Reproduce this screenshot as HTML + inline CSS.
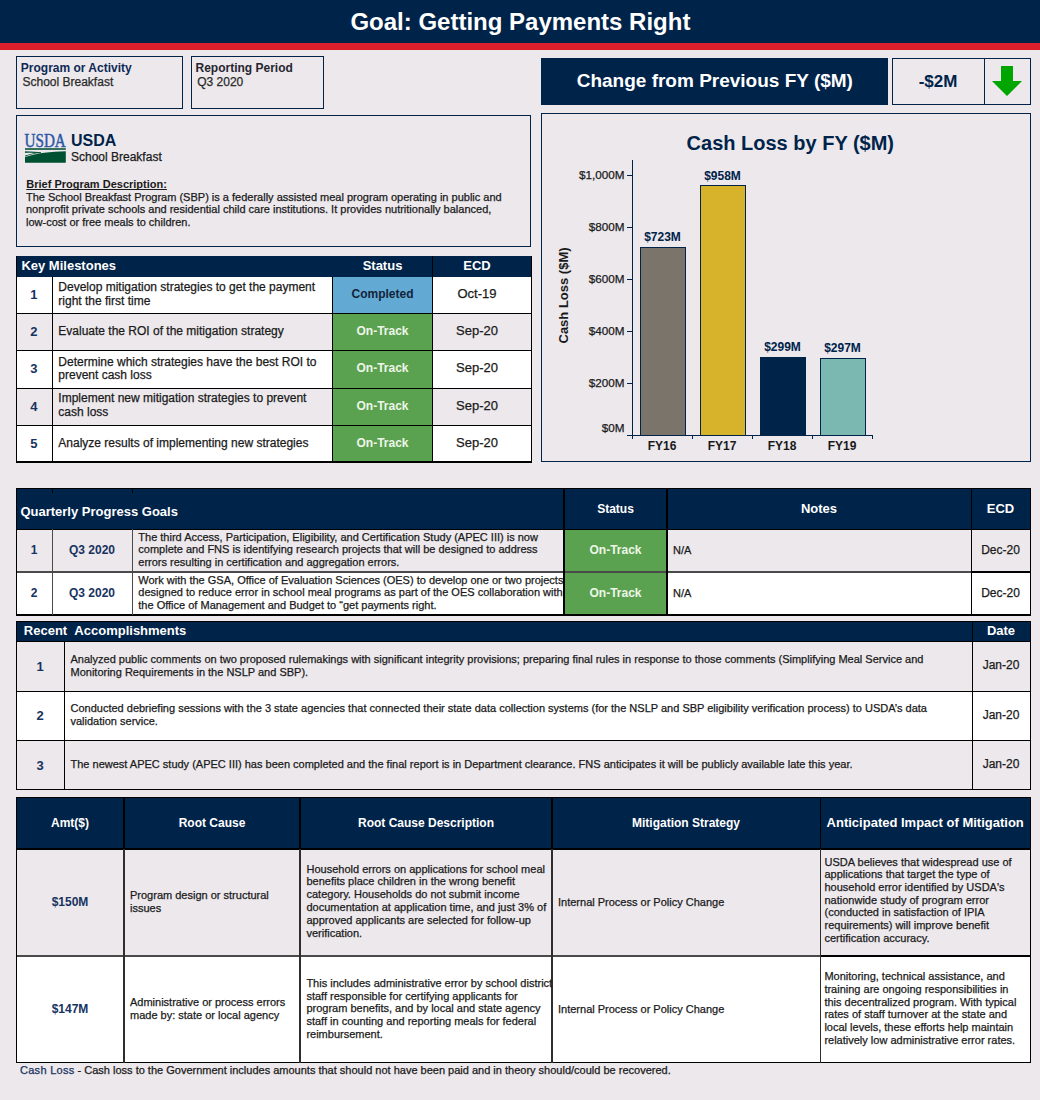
<!DOCTYPE html>
<html><head><meta charset="utf-8"><style>
html,body{margin:0;padding:0;}
body{width:1040px;height:1100px;position:relative;overflow:hidden;background:#ECE8EC;font-family:"Liberation Sans",sans-serif;}
.a{position:absolute;box-sizing:border-box;}
.t{white-space:nowrap;}
.n{-webkit-text-stroke:0.25px currentColor;}
</style></head><body>
<div class="a" style="left:0px;top:0px;width:1040px;height:43px;background:#00234A;"></div>
<div class="a" style="left:0px;top:43px;width:1040px;height:7px;background:#DC1F2A;"></div>
<div class="a t" style="top:9.68px;font-size:24px;line-height:24px;font-weight:bold;color:#FFFFFF;left:120.39999999999998px;width:800px;text-align:center;">Goal: Getting Payments Right</div>
<div class="a" style="left:16px;top:56px;width:167px;height:53px;box-shadow:inset 0 0 0 1px #00234A;"></div>
<div class="a t" style="top:61.84px;font-size:12px;line-height:12px;font-weight:bold;color:#0F2A55;left:20.8px;">Program or Activity</div>
<div class="a t n" style="top:75.54px;font-size:12px;line-height:12px;font-weight:normal;color:#2A2A2A;left:22.5px;">School Breakfast</div>
<div class="a" style="left:191px;top:56px;width:133px;height:53px;box-shadow:inset 0 0 0 1px #00234A;"></div>
<div class="a t" style="top:61.84px;font-size:12px;line-height:12px;font-weight:bold;color:#262630;left:195.5px;">Reporting Period</div>
<div class="a t n" style="top:75.54px;font-size:12px;line-height:12px;font-weight:normal;color:#2A2A2A;left:197.2px;">Q3 2020</div>
<div class="a" style="left:541px;top:58px;width:347px;height:47px;background:#00234A;"></div>
<div class="a t" style="top:71.42px;font-size:19px;line-height:19px;font-weight:bold;color:#FFFFFF;left:576.7px;">Change from Previous FY ($M)</div>
<div class="a" style="left:892px;top:58px;width:139px;height:47px;box-shadow:inset 0 0 0 1px #00234A;"></div>
<div class="a" style="left:984px;top:58px;width:1px;height:47px;background:#00234A"></div>
<div class="a t" style="top:72.61px;font-size:17px;line-height:17px;font-weight:bold;color:#00234A;left:538px;width:800px;text-align:center;">-$2M</div>
<svg class="a" style="left:990px;top:64px" width="34" height="34" viewBox="0 0 34 34"><path d="M11 2H23V17H32L17 32L2 17H11Z" fill="#00A600"/></svg>
<div class="a" style="left:16px;top:115px;width:515px;height:132px;box-shadow:inset 0 0 0 1px #00234A;"></div>
<svg class="a" style="left:24px;top:132px" width="44" height="32" viewBox="0 0 44 32">
<text x="0.6" y="14.8" font-family="Liberation Serif" font-size="17.9" fill="#2A57A6" stroke="#2A57A6" stroke-width="0.45" textLength="41.2" lengthAdjust="spacingAndGlyphs">USDA</text>
<rect x="1" y="16.2" width="40.8" height="1.6" fill="#0B5636"/>
<path d="M1 19.2 C8 19.4 13 19.8 17 20.6 L17 21.4 C12 20.8 7 20.6 1 20.9 Z" fill="#0B5636"/>
<path d="M1 23.6 C6 21.8 11 20.6 17 19.9 L17 20.7 C11 21.4 6 22.6 1 24.4 Z" fill="#0B5636"/>
<path d="M1 25.0 C13 21.2 27 19.6 41.8 19.3 L41.8 30.7 L1 30.7 Z" fill="#005032"/>
</svg>
<div class="a t" style="top:133.46px;font-size:16px;line-height:16px;font-weight:bold;color:#00234A;left:71px;">USDA</div>
<div class="a t n" style="top:150.84px;font-size:12px;line-height:12px;font-weight:normal;color:#1A1A1A;left:71px;">School Breakfast</div>
<div class="a t" style="top:178.69px;font-size:11px;line-height:11px;font-weight:bold;color:#1A1A1A;left:26.3px;"><u style="text-decoration-skip-ink:none">Brief Program Description:</u></div>
<div class="a t n" style="top:190.89px;font-size:11px;line-height:12.6px;font-weight:normal;color:#1A1A1A;left:26px;">The School Breakfast Program (SBP) is a federally assisted meal program operating in public and<br>nonprofit private schools and residential child care institutions. It provides nutritionally balanced,<br>low-cost or free meals to children.</div>
<div class="a" style="left:541px;top:113px;width:490px;height:349px;box-shadow:inset 0 0 0 1px #00234A;"></div>
<div class="a t" style="top:133.07px;font-size:20px;line-height:20px;font-weight:bold;color:#00234A;left:390.29999999999995px;width:800px;text-align:center;">Cash Loss by FY ($M)</div>
<div class="a" style="left:632px;top:160px;width:1px;height:276px;background:#00234A"></div>
<div class="a" style="left:627px;top:435px;width:246px;height:1px;background:#00234A"></div>
<div class="a t n" style="top:422.30px;font-size:11.7px;line-height:11.7px;font-weight:normal;color:#1A1A1A;left:224.5px;width:400px;text-align:right;">$0M</div>
<div class="a" style="left:627px;top:383px;width:5px;height:1px;background:#00234A"></div>
<div class="a t n" style="top:377.40px;font-size:11.7px;line-height:11.7px;font-weight:normal;color:#1A1A1A;left:224.5px;width:400px;text-align:right;">$200M</div>
<div class="a" style="left:627px;top:331px;width:5px;height:1px;background:#00234A"></div>
<div class="a t n" style="top:325.40px;font-size:11.7px;line-height:11.7px;font-weight:normal;color:#1A1A1A;left:224.5px;width:400px;text-align:right;">$400M</div>
<div class="a" style="left:627px;top:279px;width:5px;height:1px;background:#00234A"></div>
<div class="a t n" style="top:273.40px;font-size:11.7px;line-height:11.7px;font-weight:normal;color:#1A1A1A;left:224.5px;width:400px;text-align:right;">$600M</div>
<div class="a" style="left:627px;top:227px;width:5px;height:1px;background:#00234A"></div>
<div class="a t n" style="top:221.40px;font-size:11.7px;line-height:11.7px;font-weight:normal;color:#1A1A1A;left:224.5px;width:400px;text-align:right;">$800M</div>
<div class="a" style="left:627px;top:175px;width:5px;height:1px;background:#00234A"></div>
<div class="a t n" style="top:169.40px;font-size:11.7px;line-height:11.7px;font-weight:normal;color:#1A1A1A;left:224.5px;width:400px;text-align:right;">$1,000M</div>
<div class="a" style="left:632px;top:435px;width:1px;height:4px;background:#00234A"></div>
<div class="a" style="left:692px;top:435px;width:1px;height:4px;background:#00234A"></div>
<div class="a" style="left:752px;top:435px;width:1px;height:4px;background:#00234A"></div>
<div class="a" style="left:812px;top:435px;width:1px;height:4px;background:#00234A"></div>
<div class="a" style="left:872px;top:435px;width:1px;height:4px;background:#00234A"></div>
<div class="a" style="left:640px;top:247.0px;width:46px;height:189.0px;background:#7B746A;box-shadow:inset 0 0 0 1px #00234A;"></div>
<div class="a t" style="top:231.06px;font-size:12px;line-height:12px;font-weight:bold;color:#00234A;left:262.5px;width:800px;text-align:center;">$723M</div>
<div class="a t" style="top:439.84px;font-size:12px;line-height:12px;font-weight:bold;color:#1A1A1A;left:262px;width:800px;text-align:center;">FY16</div>
<div class="a" style="left:700px;top:184.9px;width:46px;height:251.1px;background:#D6B32A;box-shadow:inset 0 0 0 1px #00234A;"></div>
<div class="a t" style="top:169.96px;font-size:12px;line-height:12px;font-weight:bold;color:#00234A;left:322.5px;width:800px;text-align:center;">$958M</div>
<div class="a t" style="top:439.84px;font-size:12px;line-height:12px;font-weight:bold;color:#1A1A1A;left:322px;width:800px;text-align:center;">FY17</div>
<div class="a" style="left:760px;top:357.3px;width:46px;height:78.7px;background:#00234A;box-shadow:inset 0 0 0 1px #00234A;"></div>
<div class="a t" style="top:341.30px;font-size:12px;line-height:12px;font-weight:bold;color:#00234A;left:382.5px;width:800px;text-align:center;">$299M</div>
<div class="a t" style="top:439.84px;font-size:12px;line-height:12px;font-weight:bold;color:#1A1A1A;left:382px;width:800px;text-align:center;">FY18</div>
<div class="a" style="left:820px;top:357.8px;width:46px;height:78.2px;background:#7AB8B1;box-shadow:inset 0 0 0 1px #00234A;"></div>
<div class="a t" style="top:341.82px;font-size:12px;line-height:12px;font-weight:bold;color:#00234A;left:442.5px;width:800px;text-align:center;">$297M</div>
<div class="a t" style="top:439.84px;font-size:12px;line-height:12px;font-weight:bold;color:#1A1A1A;left:442px;width:800px;text-align:center;">FY19</div>
<div class="a t" style="left:515px;top:288px;width:96px;height:15px;font-size:13px;line-height:15px;font-weight:bold;color:#1A1A1A;text-align:center;transform:rotate(-90deg);transform-origin:50% 50%;white-space:nowrap">Cash Loss ($M)</div>
<div class="a" style="left:16px;top:256px;width:516px;height:21.3px;background:#00234A;"></div>
<div class="a" style="left:16px;top:277.3px;width:516px;height:35.69999999999999px;background:#FFFFFF;"></div>
<div class="a" style="left:333px;top:277.3px;width:99px;height:35.69999999999999px;background:#62A9D3;"></div>
<div class="a" style="left:16px;top:313px;width:516px;height:37px;background:#ECE8EC;"></div>
<div class="a" style="left:333px;top:313px;width:99px;height:37px;background:#5AA150;"></div>
<div class="a" style="left:16px;top:350px;width:516px;height:38px;background:#FFFFFF;"></div>
<div class="a" style="left:333px;top:350px;width:99px;height:38px;background:#5AA150;"></div>
<div class="a" style="left:16px;top:388px;width:516px;height:37px;background:#ECE8EC;"></div>
<div class="a" style="left:333px;top:388px;width:99px;height:37px;background:#5AA150;"></div>
<div class="a" style="left:16px;top:425px;width:516px;height:37px;background:#FFFFFF;"></div>
<div class="a" style="left:333px;top:425px;width:99px;height:37px;background:#5AA150;"></div>
<div class="a" style="left:16px;top:313px;width:516px;height:1px;background:#000000"></div>
<div class="a" style="left:16px;top:350px;width:516px;height:1px;background:#000000"></div>
<div class="a" style="left:16px;top:388px;width:516px;height:1px;background:#000000"></div>
<div class="a" style="left:16px;top:425px;width:516px;height:1px;background:#000000"></div>
<div class="a" style="left:16px;top:461.4px;width:516px;height:1.3px;background:#000000"></div>
<div class="a" style="left:16px;top:256px;width:1.2px;height:206px;background:#000000"></div>
<div class="a" style="left:530.8px;top:256px;width:1.2px;height:206px;background:#000000"></div>
<div class="a" style="left:52px;top:277px;width:1px;height:185px;background:#000000"></div>
<div class="a" style="left:332px;top:277px;width:1px;height:185px;background:#000000"></div>
<div class="a" style="left:432px;top:256px;width:1px;height:206px;background:#000000"></div>
<div class="a t" style="top:258.50px;font-size:13px;line-height:13px;font-weight:bold;color:#FFFFFF;left:21.4px;">Key Milestones</div>
<div class="a t" style="top:259.00px;font-size:13px;line-height:13px;font-weight:bold;color:#FFFFFF;left:-17.5px;width:800px;text-align:center;">Status</div>
<div class="a t" style="top:259.00px;font-size:13px;line-height:13px;font-weight:bold;color:#FFFFFF;left:77px;width:800px;text-align:center;">ECD</div>
<div class="a t" style="top:288.00px;font-size:13px;line-height:13px;font-weight:bold;color:#17335F;left:-366.2px;width:800px;text-align:center;">1</div>
<div class="a t n" style="top:280.84px;font-size:12px;line-height:13.8px;font-weight:normal;color:#1A1A1A;left:58.3px;">Develop mitigation strategies to get the payment<br>right the first time</div>
<div class="a t" style="top:288.44px;font-size:12px;line-height:12px;font-weight:bold;color:#13243A;left:-17.5px;width:800px;text-align:center;">Completed</div>
<div class="a t n" style="top:287.20px;font-size:13px;line-height:13px;font-weight:normal;color:#1A1A1A;left:77px;width:800px;text-align:center;">Oct-19</div>
<div class="a t" style="top:324.50px;font-size:13px;line-height:13px;font-weight:bold;color:#17335F;left:-366.2px;width:800px;text-align:center;">2</div>
<div class="a t n" style="top:324.54px;font-size:12px;line-height:13.8px;font-weight:normal;color:#1A1A1A;left:58.3px;">Evaluate the ROI of the mitigation strategy</div>
<div class="a t" style="top:324.94px;font-size:12px;line-height:12px;font-weight:bold;color:#EEF6E8;left:-17.5px;width:800px;text-align:center;">On-Track</div>
<div class="a t n" style="top:323.70px;font-size:13px;line-height:13px;font-weight:normal;color:#1A1A1A;left:77px;width:800px;text-align:center;">Sep-20</div>
<div class="a t" style="top:362.00px;font-size:13px;line-height:13px;font-weight:bold;color:#17335F;left:-366.2px;width:800px;text-align:center;">3</div>
<div class="a t n" style="top:355.64px;font-size:12px;line-height:13.8px;font-weight:normal;color:#1A1A1A;left:58.3px;">Determine which strategies have the best ROI to<br>prevent cash loss</div>
<div class="a t" style="top:362.44px;font-size:12px;line-height:12px;font-weight:bold;color:#EEF6E8;left:-17.5px;width:800px;text-align:center;">On-Track</div>
<div class="a t n" style="top:361.20px;font-size:13px;line-height:13px;font-weight:normal;color:#1A1A1A;left:77px;width:800px;text-align:center;">Sep-20</div>
<div class="a t" style="top:399.50px;font-size:13px;line-height:13px;font-weight:bold;color:#17335F;left:-366.2px;width:800px;text-align:center;">4</div>
<div class="a t n" style="top:392.44px;font-size:12px;line-height:13.8px;font-weight:normal;color:#1A1A1A;left:58.3px;">Implement new mitigation strategies to prevent<br>cash loss</div>
<div class="a t" style="top:399.94px;font-size:12px;line-height:12px;font-weight:bold;color:#EEF6E8;left:-17.5px;width:800px;text-align:center;">On-Track</div>
<div class="a t n" style="top:398.70px;font-size:13px;line-height:13px;font-weight:normal;color:#1A1A1A;left:77px;width:800px;text-align:center;">Sep-20</div>
<div class="a t" style="top:436.50px;font-size:13px;line-height:13px;font-weight:bold;color:#17335F;left:-366.2px;width:800px;text-align:center;">5</div>
<div class="a t n" style="top:436.84px;font-size:12px;line-height:13.8px;font-weight:normal;color:#1A1A1A;left:58.3px;">Analyze results of implementing new strategies</div>
<div class="a t" style="top:436.94px;font-size:12px;line-height:12px;font-weight:bold;color:#EEF6E8;left:-17.5px;width:800px;text-align:center;">On-Track</div>
<div class="a t n" style="top:435.70px;font-size:13px;line-height:13px;font-weight:normal;color:#1A1A1A;left:77px;width:800px;text-align:center;">Sep-20</div>
<div class="a" style="left:16px;top:488.5px;width:1015px;height:40.5px;background:#00234A;"></div>
<div class="a" style="left:16px;top:529px;width:1015px;height:43px;background:#ECE8EC;"></div>
<div class="a" style="left:16px;top:572px;width:1015px;height:43px;background:#FFFFFF;"></div>
<div class="a" style="left:564px;top:529px;width:103px;height:86px;background:#5AA150;"></div>
<div class="a" style="left:16px;top:488.2px;width:1015px;height:1.2px;background:#000000"></div>
<div class="a" style="left:16px;top:528.6px;width:1015px;height:1.2px;background:#000000"></div>
<div class="a" style="left:16px;top:571.4px;width:955px;height:1.4px;background:#4A4A4A"></div>
<div class="a" style="left:971px;top:571.4px;width:60px;height:1.4px;background:#000000"></div>
<div class="a" style="left:16px;top:614.2px;width:1015px;height:1.4px;background:#000000"></div>
<div class="a" style="left:16px;top:488.5px;width:1.4px;height:127px;background:#000000"></div>
<div class="a" style="left:1029.6px;top:488.5px;width:1.4px;height:127px;background:#000000"></div>
<div class="a" style="left:52px;top:529px;width:1.2px;height:86px;background:#4A4A4A"></div>
<div class="a" style="left:131.6px;top:529px;width:1.2px;height:86px;background:#4A4A4A"></div>
<div class="a" style="left:52px;top:489px;width:1.2px;height:4px;background:#000000"></div>
<div class="a" style="left:131.6px;top:489px;width:1.2px;height:4px;background:#000000"></div>
<div class="a" style="left:563.2px;top:488.5px;width:2px;height:127px;background:#000000"></div>
<div class="a" style="left:665.8px;top:488.5px;width:2px;height:127px;background:#000000"></div>
<div class="a" style="left:971px;top:488.5px;width:1.4px;height:127px;background:#000000"></div>
<div class="a t" style="top:505.00px;font-size:13px;line-height:13px;font-weight:bold;color:#FFFFFF;left:20.4px;">Quarterly Progress Goals</div>
<div class="a t" style="top:502.54px;font-size:12px;line-height:12px;font-weight:bold;color:#FFFFFF;left:215.5px;width:800px;text-align:center;">Status</div>
<div class="a t" style="top:501.70px;font-size:13px;line-height:13px;font-weight:bold;color:#FFFFFF;left:419px;width:800px;text-align:center;">Notes</div>
<div class="a t" style="top:501.70px;font-size:13px;line-height:13px;font-weight:bold;color:#FFFFFF;left:600.5px;width:800px;text-align:center;">ECD</div>
<div class="a t" style="top:543.94px;font-size:12px;line-height:12px;font-weight:bold;color:#17335F;left:-366px;width:800px;text-align:center;">1</div>
<div class="a t" style="top:543.94px;font-size:12px;line-height:12px;font-weight:bold;color:#17335F;left:-308px;width:800px;text-align:center;">Q3 2020</div>
<div class="a t n" style="top:530.79px;font-size:11px;line-height:12.6px;font-weight:normal;color:#1A1A1A;left:138.3px;">The third Access, Participation, Eligibility, and Certification Study (APEC III) is now<br>complete and FNS is identifying research projects that will be designed to address<br>errors resulting in certification and aggregation errors.</div>
<div class="a t" style="top:543.74px;font-size:12px;line-height:12px;font-weight:bold;color:#EEF6E8;left:215.5px;width:800px;text-align:center;">On-Track</div>
<div class="a t n" style="top:545.19px;font-size:11px;line-height:11px;font-weight:normal;color:#1A1A1A;left:673px;">N/A</div>
<div class="a t n" style="top:543.74px;font-size:12px;line-height:12px;font-weight:normal;color:#1A1A1A;left:600.5px;width:800px;text-align:center;">Dec-20</div>
<div class="a t" style="top:586.74px;font-size:12px;line-height:12px;font-weight:bold;color:#17335F;left:-366px;width:800px;text-align:center;">2</div>
<div class="a t" style="top:586.74px;font-size:12px;line-height:12px;font-weight:bold;color:#17335F;left:-308px;width:800px;text-align:center;">Q3 2020</div>
<div class="a t n" style="top:573.69px;font-size:11px;line-height:12.6px;font-weight:normal;color:#1A1A1A;left:138.3px;">Work with the GSA, Office of Evaluation Sciences (OES) to develop one or two projects<br>designed to reduce error in school meal programs as part of the OES collaboration with<br>the Office of Management and Budget to “get payments right.</div>
<div class="a t" style="top:586.54px;font-size:12px;line-height:12px;font-weight:bold;color:#EEF6E8;left:215.5px;width:800px;text-align:center;">On-Track</div>
<div class="a t n" style="top:587.99px;font-size:11px;line-height:11px;font-weight:normal;color:#1A1A1A;left:673px;">N/A</div>
<div class="a t n" style="top:586.54px;font-size:12px;line-height:12px;font-weight:normal;color:#1A1A1A;left:600.5px;width:800px;text-align:center;">Dec-20</div>
<div class="a" style="left:16px;top:621.5px;width:1015px;height:19.5px;background:#00234A;"></div>
<div class="a" style="left:16px;top:641px;width:1015px;height:50px;background:#ECE8EC;"></div>
<div class="a" style="left:16px;top:691px;width:1015px;height:49.5px;background:#FFFFFF;"></div>
<div class="a" style="left:16px;top:740.5px;width:1015px;height:49.5px;background:#ECE8EC;"></div>
<div class="a" style="left:16px;top:621px;width:1015px;height:1.2px;background:#000000"></div>
<div class="a" style="left:16px;top:640.5px;width:1015px;height:1.2px;background:#000000"></div>
<div class="a" style="left:16px;top:690.5px;width:1015px;height:1.2px;background:#000000"></div>
<div class="a" style="left:16px;top:740px;width:1015px;height:1.2px;background:#000000"></div>
<div class="a" style="left:16px;top:789px;width:1015px;height:1.4px;background:#000000"></div>
<div class="a" style="left:16px;top:621px;width:1.4px;height:169px;background:#000000"></div>
<div class="a" style="left:1029.6px;top:621px;width:1.4px;height:169px;background:#000000"></div>
<div class="a" style="left:64px;top:641px;width:1.2px;height:149px;background:#000000"></div>
<div class="a" style="left:972px;top:621px;width:1.2px;height:169px;background:#000000"></div>
<div class="a t" style="top:623.60px;font-size:13px;line-height:13px;font-weight:bold;color:#FFFFFF;left:23.8px;">Recent &nbsp;Accomplishments</div>
<div class="a t" style="top:624.00px;font-size:13px;line-height:13px;font-weight:bold;color:#FFFFFF;left:601px;width:800px;text-align:center;">Date</div>
<div class="a t" style="top:659.60px;font-size:13px;line-height:13px;font-weight:bold;color:#17335F;left:-360px;width:800px;text-align:center;">1</div>
<div class="a t n" style="top:652.99px;font-size:11px;line-height:13px;font-weight:normal;color:#1A1A1A;left:70.5px;">Analyzed public comments on two proposed rulemakings with significant integrity provisions; preparing final rules in response to those comments (Simplifying Meal Service and<br>Monitoring Requirements in the NSLP and SBP).</div>
<div class="a t n" style="top:659.24px;font-size:12px;line-height:12px;font-weight:normal;color:#1A1A1A;left:601px;width:800px;text-align:center;">Jan-20</div>
<div class="a t" style="top:709.10px;font-size:13px;line-height:13px;font-weight:bold;color:#17335F;left:-360px;width:800px;text-align:center;">2</div>
<div class="a t n" style="top:701.69px;font-size:11px;line-height:13px;font-weight:normal;color:#1A1A1A;left:70.5px;">Conducted debriefing sessions with the 3 state agencies that connected their state data collection systems (for the NSLP and SBP eligibility verification process) to USDA’s data<br>validation service.</div>
<div class="a t n" style="top:708.74px;font-size:12px;line-height:12px;font-weight:normal;color:#1A1A1A;left:601px;width:800px;text-align:center;">Jan-20</div>
<div class="a t" style="top:758.80px;font-size:13px;line-height:13px;font-weight:bold;color:#17335F;left:-360px;width:800px;text-align:center;">3</div>
<div class="a t n" style="top:757.99px;font-size:11px;line-height:13px;font-weight:normal;color:#1A1A1A;left:70.5px;">The newest APEC study (APEC III) has been completed and the final report is in Department clearance. FNS anticipates it will be publicly available late this year.</div>
<div class="a t n" style="top:758.44px;font-size:12px;line-height:12px;font-weight:normal;color:#1A1A1A;left:601px;width:800px;text-align:center;">Jan-20</div>
<div class="a" style="left:16px;top:797px;width:1015px;height:52px;background:#00234A;"></div>
<div class="a" style="left:16px;top:849px;width:1015px;height:107px;background:#ECE8EC;"></div>
<div class="a" style="left:16px;top:956px;width:1015px;height:106.5px;background:#FFFFFF;"></div>
<div class="a" style="left:16px;top:796.5px;width:1015px;height:1.4px;background:#000000"></div>
<div class="a" style="left:16px;top:848.3px;width:1015px;height:1.4px;background:#000000"></div>
<div class="a" style="left:16px;top:955.2px;width:804px;height:1.6px;background:#4A4A4A"></div>
<div class="a" style="left:820px;top:955.2px;width:211px;height:1.4px;background:#000000"></div>
<div class="a" style="left:16px;top:1061.6px;width:1015px;height:1.6px;background:#000000"></div>
<div class="a" style="left:15.6px;top:796.5px;width:1.8px;height:266px;background:#000000"></div>
<div class="a" style="left:1029.6px;top:796.5px;width:1.4px;height:266px;background:#000000"></div>
<div class="a" style="left:123.4px;top:796.5px;width:1.6px;height:52px;background:#000000"></div>
<div class="a" style="left:123.4px;top:848.5px;width:1.6px;height:214px;background:#2E2E2E"></div>
<div class="a" style="left:299.2px;top:796.5px;width:1.6px;height:52px;background:#000000"></div>
<div class="a" style="left:299.2px;top:848.5px;width:1.6px;height:214px;background:#2E2E2E"></div>
<div class="a" style="left:551.4px;top:796.5px;width:1.6px;height:52px;background:#000000"></div>
<div class="a" style="left:551.4px;top:848.5px;width:1.6px;height:214px;background:#2E2E2E"></div>
<div class="a" style="left:819.6px;top:796.5px;width:1.6px;height:52px;background:#000000"></div>
<div class="a" style="left:819.6px;top:848.5px;width:1.6px;height:214px;background:#2E2E2E"></div>
<div class="a t" style="top:816.54px;font-size:12px;line-height:12px;font-weight:bold;color:#FFFFFF;left:-330px;width:800px;text-align:center;">Amt($)</div>
<div class="a t" style="top:816.54px;font-size:12px;line-height:12px;font-weight:bold;color:#FFFFFF;left:-188px;width:800px;text-align:center;">Root Cause</div>
<div class="a t" style="top:816.84px;font-size:12px;line-height:12px;font-weight:bold;color:#FFFFFF;left:26px;width:800px;text-align:center;">Root Cause Description</div>
<div class="a t" style="top:816.84px;font-size:12px;line-height:12px;font-weight:bold;color:#FFFFFF;left:286px;width:800px;text-align:center;">Mitigation Strategy</div>
<div class="a t" style="top:815.80px;font-size:13px;line-height:13px;font-weight:bold;color:#FFFFFF;left:525.2px;width:800px;text-align:center;">Anticipated Impact of Mitigation</div>
<div class="a t" style="top:896.34px;font-size:12px;line-height:12px;font-weight:bold;color:#17335F;left:-330px;width:800px;text-align:center;">$150M</div>
<div class="a t n" style="top:888.84px;font-size:11px;line-height:12.7px;font-weight:normal;color:#1A1A1A;left:130px;">Program design or structural<br>issues</div>
<div class="a t n" style="top:862.59px;font-size:11px;line-height:12.8px;font-weight:normal;color:#1A1A1A;left:306.5px;">Household errors on applications for school meal<br>benefits place children in the wrong benefit<br>category. Households do not submit income<br>documentation at application time, and just 3% of<br>approved applicants are selected for follow-up<br>verification.</div>
<div class="a t n" style="top:897.19px;font-size:11px;line-height:11px;font-weight:normal;color:#1A1A1A;left:558px;">Internal Process or Policy Change</div>
<div class="a t n" style="top:855.65px;font-size:11px;line-height:12.68px;font-weight:normal;color:#1A1A1A;left:824.5px;">USDA believes that widespread use of<br>applications that target the type of<br>household error identified by USDA's<br>nationwide study of program error<br>(conducted in satisfaction of IPIA<br>requirements) will improve benefit<br>certification accuracy.</div>
<div class="a t" style="top:1002.84px;font-size:12px;line-height:12px;font-weight:bold;color:#17335F;left:-330px;width:800px;text-align:center;">$147M</div>
<div class="a t n" style="top:996.04px;font-size:11px;line-height:12.9px;font-weight:normal;color:#1A1A1A;left:130px;">Administrative or process errors<br>made by: state or local agency</div>
<div class="a t n" style="top:976.79px;font-size:11px;line-height:12.8px;font-weight:normal;color:#1A1A1A;left:306.4px;">This includes administrative error by school district<br>staff responsible for certifying applicants for<br>program benefits, and by local and state agency<br>staff in counting and reporting meals for federal<br>reimbursement.</div>
<div class="a t n" style="top:1003.69px;font-size:11px;line-height:11px;font-weight:normal;color:#1A1A1A;left:558px;">Internal Process or Policy Change</div>
<div class="a t n" style="top:970.24px;font-size:11px;line-height:12.7px;font-weight:normal;color:#1A1A1A;left:824.4px;">Monitoring, technical assistance, and<br>training are ongoing responsibilities in<br>this decentralized program. With typical<br>rates of staff turnover at the state and<br>local levels, these efforts help maintain<br>relatively low administrative error rates.</div>
<div class="a t n" style="top:1065.39px;font-size:11px;line-height:11px;font-weight:normal;color:#1A1A1A;left:20px;"><span style="color:#17335F;letter-spacing:0.28px">Cash Loss</span> - Cash loss to the Government includes amounts that should not have been paid and in theory should/could be recovered.</div>
</body></html>
